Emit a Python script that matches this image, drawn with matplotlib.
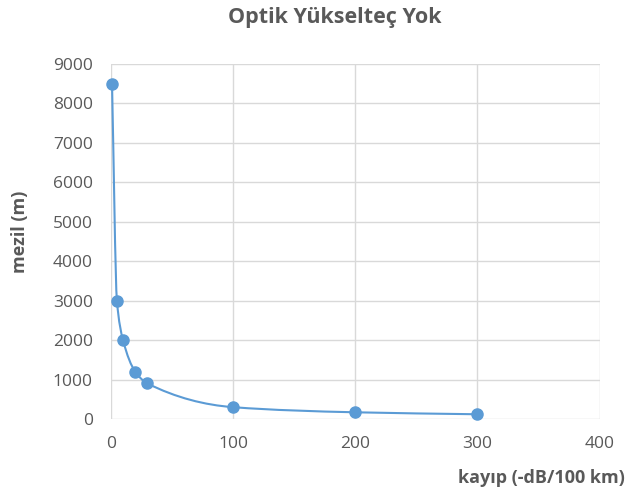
import numpy as np
import matplotlib
matplotlib.use('Agg')
import matplotlib.pyplot as plt
from matplotlib.path import Path
import matplotlib.patches as patches

# data
kayip = [1, 5, 10, 20, 30, 100, 200, 300]
mesafe = [8500, 3000, 2000, 1200, 900, 300, 170, 120]

x_ticks = [0, 100, 200, 300, 400]
y_ticks = [0, 1000, 2000, 3000, 4000, 5000, 6000, 7000, 8000, 9000]

BLUE = '#5B9BD5'
TEXT = '#595959'
GRID = '#D9D9D9'

plt.rcParams['font.family'] = ['Open Sans', 'DejaVu Sans']


def smooth_path(x, y):
    """monotone cubic bezier path through the points (like Excel smooth line)"""
    x = np.asarray(x, float)
    y = np.asarray(y, float)
    h = np.diff(x)
    d = np.diff(y) / h
    m = np.zeros_like(y)
    m[0], m[-1] = d[0], d[-1]
    for i in range(1, len(x) - 1):
        if d[i - 1] * d[i] > 0:
            w1 = 2 * h[i] + h[i - 1]
            w2 = h[i] + 2 * h[i - 1]
            m[i] = (w1 + w2) / (w1 / d[i - 1] + w2 / d[i])
    verts = [(x[0], y[0])]
    codes = [Path.MOVETO]
    for i in range(len(x) - 1):
        verts += [(x[i] + h[i] / 3, y[i] + m[i] * h[i] / 3),
                  (x[i + 1] - h[i] / 3, y[i + 1] - m[i + 1] * h[i] / 3),
                  (x[i + 1], y[i + 1])]
        codes += [Path.CURVE4] * 3
    return Path(verts, codes)


fig = plt.figure(figsize=(6.26, 5.03), dpi=100)
ax = fig.add_axes([0.177, 0.167, 0.781, 0.706])

ax.set_xlim(0, 400)
ax.set_ylim(0, 9000)
ax.set_xticks(x_ticks)
ax.set_yticks(y_ticks)
ax.grid(True, color=GRID, linewidth=1)
ax.set_axisbelow(True)
for s in ax.spines.values():
    s.set_visible(False)
ax.tick_params(length=0, colors=TEXT, labelsize=12.5)
ax.tick_params(axis='y', pad=13)
ax.tick_params(axis='x', pad=12)

line = patches.PathPatch(smooth_path(kayip, mesafe), facecolor='none',
                         edgecolor=BLUE, linewidth=1.5, zorder=2)
ax.add_patch(line)
ax.plot(kayip, mesafe, 'o', color=BLUE, markersize=8, zorder=3, clip_on=False)

fig.text(0.535, 0.966, 'Optik Yükselteç Yok', ha='center', va='center',
         fontsize=15.5, fontweight='bold', color=TEXT)
fig.text(0.032, 0.54, 'mezil (m)', ha='center', va='center', rotation=90,
         fontsize=13, fontweight='bold', color=TEXT)
fig.text(0.998, 0.05, 'kayıp (-dB/100 km)', ha='right', va='center',
         fontsize=13, fontweight='bold', color=TEXT)

fig.savefig('out.png', dpi=100)
